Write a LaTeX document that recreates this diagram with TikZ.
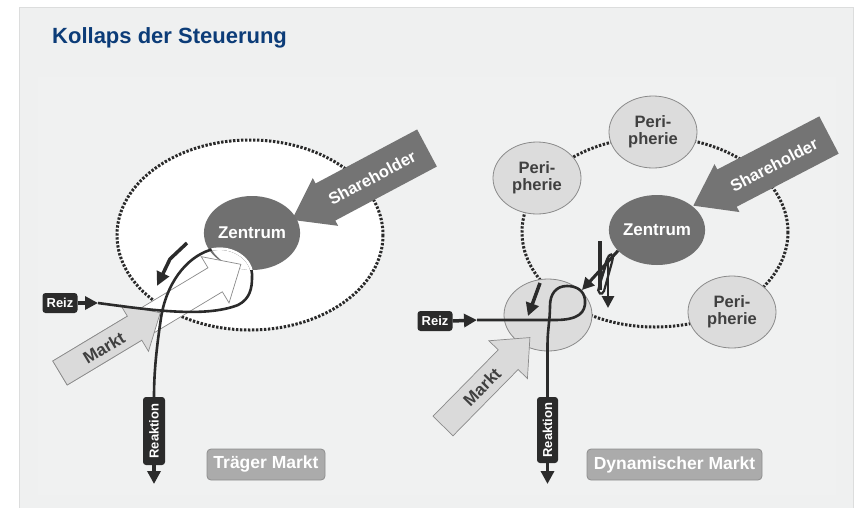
\documentclass[tikz,border=0pt]{standalone}
\usepackage{fontspec}
\setmainfont{Liberation Sans}
\usetikzlibrary{arrows.meta,shapes.geometric}
\definecolor{panel}{HTML}{EFF0F0}
\definecolor{panelin}{HTML}{F0F1F1}
\definecolor{panelline}{HTML}{DCDDDD}
\definecolor{titleblue}{HTML}{0C3C78}
\definecolor{zgray}{HTML}{707070}
\definecolor{shgray}{HTML}{747474}
\definecolor{mfill}{HTML}{DADADA}
\definecolor{mline}{HTML}{8A8A8A}
\definecolor{pfill}{HTML}{DCDCDC}
\definecolor{ptext}{HTML}{404040}
\definecolor{boxblack}{HTML}{2B2B2B}
\definecolor{labfill}{HTML}{ABABAB}
\definecolor{labline}{HTML}{8E8E8E}
\definecolor{dotcol}{HTML}{2A2A2A}
% block arrow: #1 style, #2 tail, #3 angle, #4 length, #5 half shaft, #6 half head, #7 head length
\newcommand\blockarrow[7]{%
  \begin{scope}[shift={#2},rotate=#3]
    \path[#1] (0,-#5) -- ({#4-#7},-#5) -- ({#4-#7},-#6) -- (#4,0) -- ({#4-#7},#6) -- ({#4-#7},#5) -- (0,#5) -- cycle;
  \end{scope}}
\begin{document}
\begin{tikzpicture}[x=1pt,y=-1pt,
  dotring/.style={draw=dotcol, line width=3pt, dash pattern=on 2.4pt off 1.6pt},
  zent/.style={ellipse, fill=zgray, minimum width=90, minimum height=74, inner sep=0, text=white, font=\fontsize{17}{17}\selectfont\bfseries},
  peri/.style={ellipse, fill=pfill, draw=mline, line width=0.8pt, minimum width=88, minimum height=72, inner sep=0, text=ptext, align=center, font=\fontsize{16.5}{17}\selectfont\bfseries},
  blackbox/.style={fill=boxblack, rounded corners=3pt, text=white, inner sep=0, font=\fontsize{13}{13}\selectfont\bfseries},
  stub/.style={draw=boxblack, line width=3.5pt},
  loopline/.style={draw=boxblack, line width=2.6pt},
  tag/.style={fill=labfill, draw=labline, line width=0.8pt, rounded corners=4pt, text=white, inner sep=0, minimum height=31, font=\fontsize{17.5}{17.5}\selectfont\bfseries},
  shtext/.style={text=white, font=\fontsize{16.5}{16.5}\selectfont\bfseries},
  mtext/.style={text=ptext, font=\fontsize{17}{17}\selectfont\bfseries},
  tip/.style={-{Triangle[length=13pt,width=13pt]}}
]
\useasboundingbox (0,0) rectangle (855,507);
% background
\fill[white] (0,0) rectangle (855,507);
\filldraw[fill=panel, draw=panelline, line width=0.8pt] (19,7) rectangle (853,510);
\fill[panelin] (38,77) rectangle (836,495);
\node[anchor=base west, text=titleblue, font=\fontsize{22}{26}\selectfont\bfseries, inner sep=0] (title) at (52,43) {Kollaps der Steuerung};

% ================= LEFT =================
\draw[dotring, fill=white] (250,235) ellipse [x radius=133, y radius=95];
\blockarrow{fill=shgray}{(427,148)}{208}{153}{21}{27}{38}
\node[shtext, rotate=28] (shL) at (372,178) {Shareholder};
\node[zent] (zentL) at (252,233) {Zentrum};
\begin{scope}
  \clip (252,233) ellipse [x radius=45, y radius=37];
  \fill[white] (252,278) .. controls (254,258) and (230,244) .. (210,250) -- (200,300) -- (265,300) -- cycle;
\end{scope}
% ghost arrow and Markt arrow
\blockarrow{fill=white, draw=mline, line width=0.7pt}{(60,373)}{31}{211}{14}{27}{30}
\blockarrow{fill=mfill, draw=mline, line width=0.7pt}{(60,373)}{31}{117}{14}{27}{30}
\node[mtext, rotate=31] (marktL) at (104,348) {Markt};
% small bent arrow
\coordinate (saL1) at (187,243);
\coordinate (saL2) at (170,259);
\coordinate (saL3) at (157,286);
\draw[stub, line join=miter, -{Triangle[length=14pt,width=13pt]}] (saL1) -- (saL2) -- (saL3);
% Reiz / Reaktion
\node[blackbox, minimum width=35, minimum height=20] (reizL) at (60,303) {Reiz};
\coordinate (reizLtip) at (98,303);
\node[blackbox, rotate=90, minimum width=68, minimum height=22] (reakL) at (154,431) {Reaktion};
\coordinate (reakLtip) at (154,484);
\draw[stub, tip] (reizL.east) -- (reizLtip);
\draw[stub, tip] (reakL.west) -- (reakLtip);
\draw[loopline] (reizLtip) .. controls (150,310) and (205,318) .. (238,305)
  .. controls (250,299) and (252,288) .. (252,278)
  .. controls (254,258) and (230,244) .. (210,250)
  .. controls (185,258) and (166,285) .. (161,318)
  .. controls (157,345) and (154,370) .. (reakL.east);
\begin{scope}
  \clip (252,233) ellipse [x radius=45, y radius=37];
  \draw[white, line width=2.6pt] (252,278) .. controls (254,258) and (230,244) .. (210,250);
\end{scope}
\node[tag, minimum width=118] (traeger) at (266,464.5) {Träger Markt};

% ================= RIGHT =================
\draw[dotring] (655,232) ellipse [x radius=133, y radius=95];
\node[peri] (periT) at (653,132) {Peri-\\pherie};
\node[peri] (periL) at (537,178) {Peri-\\pherie};
\node[peri] (periR) at (732,312) {Peri-\\pherie};
\node[peri] (periB) at (548,315) {};
\blockarrow{fill=shgray}{(829,135)}{207.5}{153}{21}{27}{38}
\node[shtext, rotate=27.5] (shR) at (774,165) {Shareholder};
\node[zent, minimum width=88, minimum height=70] (zentR) at (657,230) {Zentrum};
\blockarrow{fill=mfill, draw=mline, line width=0.7pt}{(443,426)}{45.5}{124}{14}{27}{31}
\node[mtext, rotate=45.5] (marktR) at (482,387) {Markt};
% arrows and scribble near the periphery
\coordinate (saR1) at (540,283);
\coordinate (saR2) at (528,316);
\draw[stub, tip] (saR1) -- (saR2);
\coordinate (zaR) at (582,290);
\draw[stub, line width=3pt, -{Triangle[length=12pt,width=12pt]}] (zentR.208) -- (zaR);
\coordinate (vb1) at (600,241);
\coordinate (vb2) at (600,290);
\draw[stub, line width=3.2pt] (vb1) -- (vb2);
\coordinate (da1) at (608,262);
\coordinate (da2) at (608,308);
\draw[stub, line width=2.8pt, -{Triangle[length=12pt,width=12pt]}] (da1) -- (da2);
\draw[boxblack, line width=2.2pt] (598,291) -- (606,262) .. controls (609,252) and (615,252) .. (612,262) -- (604,291) .. controls (602,296) and (597,294) .. (599,287) -- (609,255);
% Reiz / Reaktion
\node[blackbox, minimum width=35, minimum height=20] (reizR) at (435,321) {Reiz};
\coordinate (reizRtip) at (477,320);
\node[blackbox, rotate=90, minimum width=66, minimum height=21] (reakR) at (547.5,430) {Reaktion};
\coordinate (reakRtip) at (547.5,484);
\draw[stub, tip] (reizR.east) -- (reizRtip);
\draw[stub, tip] (reakR.west) -- (reakRtip);
\draw[loopline] (reizRtip) -- (555,320) .. controls (578,320) and (586,313) .. (585,300)
  .. controls (584,290) and (576,286) .. (567,286)
  .. controls (556,286) and (550,294) .. (550,306)
  .. controls (550,320) and (547.5,330) .. (547.5,345) -- (reakR.east);
\node[tag, minimum width=175] (dyn) at (674.5,464.5) {Dynamischer Markt};
\end{tikzpicture}
\end{document}
